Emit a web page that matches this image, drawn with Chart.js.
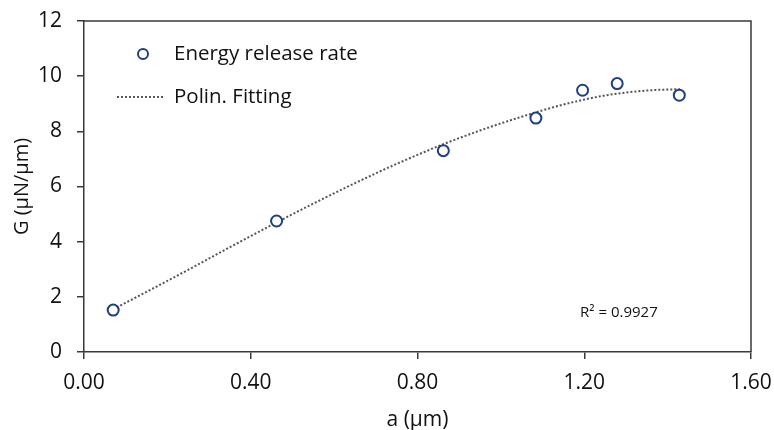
<!DOCTYPE html>
<html>
<head>
<meta charset="utf-8">
<script src="https://cdn.jsdelivr.net/npm/chart.js@4.4.1/dist/chart.umd.min.js"></script>
<style>
    html, body { margin: 0; padding: 0; background: #fff; }
    #wrap { width: 774px; height: 430px; position: relative; }
</style>
</head>
<body>
<div id="wrap"><canvas id="grafico"></canvas></div>
<script>
// puntos medidos
const aValues = [0.070, 0.462, 0.862, 1.084, 1.196, 1.279, 1.428];
const gValues = [1.52, 4.75, 7.30, 8.48, 9.49, 9.73, 9.31];

// curva de ajuste
const fitA = [0.07, 0.15, 0.25, 0.35, 0.46, 0.55, 0.65, 0.75, 0.865, 0.95, 1.05, 1.15, 1.25, 1.35, 1.43];
const fitG = [1.55, 2.18, 2.98, 3.80, 4.68, 5.38, 6.12, 6.82, 7.55, 8.03, 8.53, 8.97, 9.30, 9.48, 9.53];

const xTicks = [0, 0.4, 0.8, 1.2, 1.6];
const legendLabels = ['Energy release rate', 'Polin. Fitting'];
const r2Text = 'R² = 0.9927';

const FONT = "'Open Sans', 'Liberation Sans', sans-serif";
const AXIS = '#3a3a3a';
const MARK = '#1f3f7f';

const extras = {
    id: 'extras',
    afterDraw(chart) {
        const ctx = chart.ctx;
        const area = chart.chartArea;
        const xs = chart.scales.x;
        const ys = chart.scales.y;
        ctx.save();
        // marco superior y derecho
        ctx.strokeStyle = AXIS;
        ctx.lineWidth = 1.5;
        ctx.beginPath();
        ctx.moveTo(area.left, area.top);
        ctx.lineTo(area.right, area.top);
        ctx.lineTo(area.right, area.bottom);
        ctx.stroke();

        // leyenda
        ctx.font = '20.5px ' + FONT;
        ctx.fillStyle = '#111';
        ctx.textBaseline = 'middle';
        ctx.strokeStyle = MARK;
        ctx.lineWidth = 2;
        ctx.beginPath();
        ctx.arc(143, 54, 5, 0, Math.PI * 2);
        ctx.stroke();
        ctx.fillText(legendLabels[0], 174, 54);

        ctx.strokeStyle = '#555';
        ctx.lineWidth = 2;
        ctx.setLineDash([2, 2]);
        ctx.beginPath();
        ctx.moveTo(117, 97);
        ctx.lineTo(165, 97);
        ctx.stroke();
        ctx.setLineDash([]);
        ctx.fillText(legendLabels[1], 174, 97);

        // R cuadrado
        ctx.font = '15px ' + FONT;
        ctx.textAlign = 'left';
        ctx.fillText(r2Text, xs.getPixelForValue(1.19), ys.getPixelForValue(1.42));
        ctx.restore();
    }
};

new Chart(document.getElementById('grafico'), {
    type: 'scatter',
    data: {
        datasets: [{
            label: legendLabels[0],
            data: aValues.map((a, i) => ({ x: a, y: gValues[i] })),
            pointRadius: 5.5,
            pointBorderWidth: 2,
            pointBorderColor: MARK,
            pointBackgroundColor: '#fff',
            order: 0
        }, {
            label: legendLabels[1],
            type: 'line',
            data: fitA.map((a, i) => ({ x: a, y: fitG[i] })),
            showLine: true,
            pointRadius: 0,
            borderColor: '#555',
            borderWidth: 2,
            borderDash: [2, 2],
            tension: 0.4,
            cubicInterpolationMode: 'monotone',
            fill: false,
            order: 1
        }]
    },
    options: {
        responsive: true,
        maintainAspectRatio: false,
        animation: false,
        layout: { padding: { top: 21, right: 23, left: 0, bottom: 0 } },
        plugins: {
            legend: { display: false },
            tooltip: { enabled: false }
        },
        scales: {
            x: {
                type: 'linear',
                min: 0,
                max: 1.6,
                afterBuildTicks: scale => { scale.ticks = xTicks.map(v => ({ value: v })); },
                afterFit: scale => {
                    scale.height = 78;
                    scale.paddingLeft = 0;
                    scale.paddingRight = 0;
                },
                border: { color: AXIS, width: 1.5 },
                grid: { drawOnChartArea: false, color: AXIS, tickLength: 7, lineWidth: 1.5 },
                ticks: {
                    color: '#111',
                    font: { family: FONT, size: 21 },
                    padding: 11,
                    maxRotation: 0,
                    callback: v => v.toFixed(2)
                },
                title: {
                    display: true,
                    text: 'a (μm)',
                    color: '#111',
                    font: { family: FONT, size: 21 },
                    padding: { top: 2, bottom: -3 }
                }
            },
            y: {
                min: 0,
                max: 12,
                afterFit: scale => {
                    scale.width = 84;
                    scale.paddingTop = 0;
                    scale.paddingBottom = 0;
                },
                border: { color: AXIS, width: 1.5 },
                grid: { drawOnChartArea: false, color: AXIS, tickLength: 7, lineWidth: 1.5 },
                ticks: {
                    stepSize: 2,
                    color: '#111',
                    font: { family: FONT, size: 21 },
                    padding: 15
                },
                title: {
                    display: true,
                    text: 'G (μN/μm)',
                    color: '#111',
                    font: { family: FONT, size: 20 },
                    padding: { top: 10, bottom: 0 }
                }
            }
        }
    },
    plugins: [extras]
});
</script>
</body>
</html>
